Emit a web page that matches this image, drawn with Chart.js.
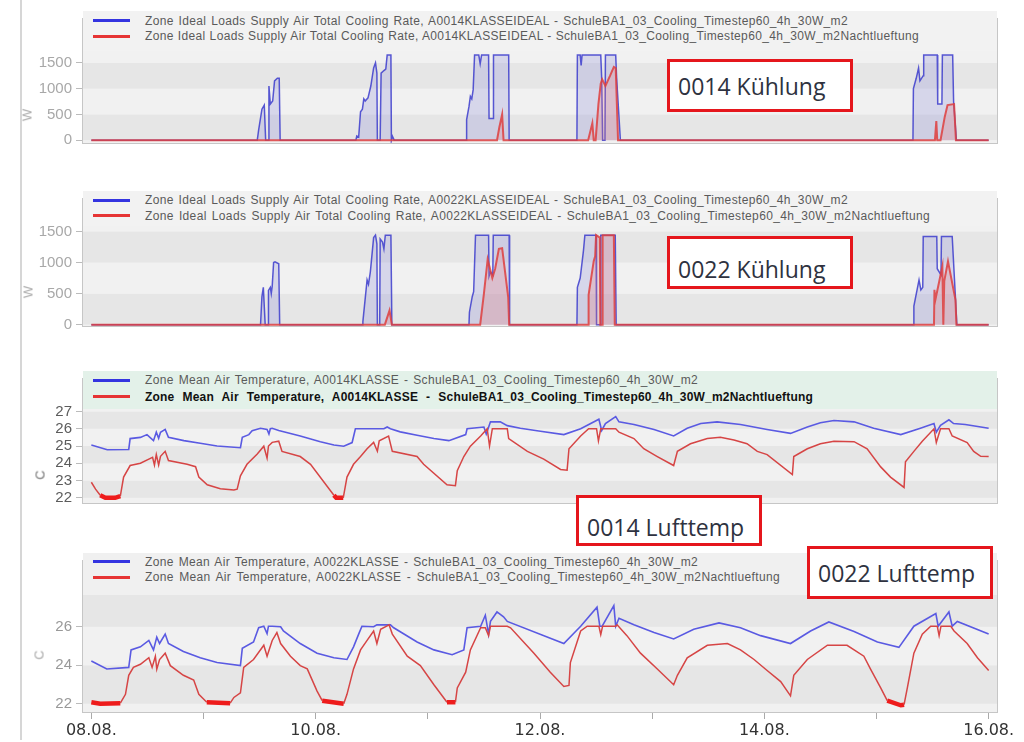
<!DOCTYPE html>
<html>
<head>
<meta charset="utf-8">
<script src="https://cdn.jsdelivr.net/npm/chart.js@4.4.1/dist/chart.umd.min.js"></script>
<style>
  html, body { margin: 0; padding: 0; background: #fff; }
  body { width: 1024px; height: 742px; position: relative; overflow: hidden; font-family: "Liberation Sans", Arial, sans-serif; }
  .panel { position: absolute; left: 0; width: 1024px; }
  .sideline { position: absolute; left: 20px; top: 0; width: 2px; height: 740px; background: #d6d6d6; }
  .legend { position: absolute; left: 83px; width: 914px; }
  .leg-line { position: absolute; left: 10px; width: 37px; height: 3px; }
  .leg-text { position: absolute; left: 62px; font-size: 12px; letter-spacing: 0.35px; line-height: 14px; color: #5a5a5a; white-space: nowrap; }
  .leg-text.bold { font-weight: bold; color: #111; letter-spacing: 0.2px; }
  .unit { position: absolute; font-size: 13px; color: #aaa; transform: translate(-50%, -50%) rotate(-90deg); }
  .note { position: absolute; box-sizing: border-box; border: 3px solid #e5161c; background: #fff; z-index: 10;
          font-family: "Open Sans", sans-serif; font-size: 23px; color: #2e3240; padding-left: 8px;
          display: flex; align-items: center; }
</style>
</head>
<body>
<div class="sideline"></div>
<script>
// ---- data (hours since 08.08. 00:00, value) ----
const dayHours  = [0, 24, 48, 72, 96, 120, 144, 168, 192];
const dayLabels = ["08.08.", "", "10.08.", "", "12.08.", "", "14.08.", "", "16.08."];

const coolTicks   = [0, 500, 1000, 1500];
const tempTicks14 = [22, 23, 24, 25, 26, 27];
const tempTicks22 = [22, 24, 26];

const cool14Ideal = [
  [0,0],
  [35.5,0],[35.8,200],[36.5,600],[37.0,680],[37.3,0],[37.8,0],[38.0,1050],[38.3,700],[38.8,760],[39.2,1150],[39.8,1200],[40.2,1200],[40.4,0],
  [56.6,0],[56.8,80],[57.2,60],[57.6,550],[58.0,600],[58.3,800],[58.6,760],[59.2,820],[59.8,1050],[60.4,1400],[60.8,1500],[61.1,1300],[61.2,0],[61.8,0],[62.0,1300],[62.6,1350],[63.0,1380],[63.3,1650],[64.1,1650],[64.2,0],[64.4,80],[64.8,0],
  [80.2,0],[80.3,400],[80.8,650],[81.1,850],[81.4,800],[81.7,980],[82.0,1650],[82.9,1650],[83.2,1480],[83.5,1650],[85.0,1650],[85.1,420],[86.0,420],[86.05,1650],[89.3,1650],[89.4,0],
  [103.9,0],[104.0,1650],[104.6,1650],[104.8,1450],[105.0,1650],[109.0,1650],[109.2,1200],[109.4,0],[109.9,0],[110.0,1650],[112.2,1650],[112.4,1200],[113.2,0],
  [175.8,0],[175.9,1000],[176.5,1200],[177.0,1400],[177.3,1150],[178.0,1250],[178.1,1650],[181.0,1650],[181.1,700],[182.0,700],[182.1,1650],[184.3,1650],[184.5,750],[185.1,0],
  [192,0]
];
const cool14Night = [
  [0,0],[86.8,0],[87.3,250],[87.9,500],[88.2,0],
  [106.3,0],[107.2,330],[107.5,0],[107.9,0],[108.5,700],[109.0,1100],[109.3,1180],[110.0,1050],[111.0,1250],[111.8,1420],[112.2,1400],[112.7,0],
  [180.5,0],[180.8,370],[181.0,0],[181.7,0],[182.6,450],[183.2,680],[184.6,700],[185.0,0],[192,0]
];
const cool22Ideal = [
  [0,0],
  [36.2,0],[36.5,450],[36.8,600],[37.2,0],[37.8,0],[37.9,550],[38.3,600],[38.5,500],[38.7,620],[39.0,1000],[39.3,1010],[40.1,980],[40.3,0],
  [58.0,0],[58.1,50],[59.0,720],[59.3,650],[59.7,850],[60.4,1400],[60.8,1440],[61.1,1300],[61.2,0],[61.7,0],[61.8,1380],[62.3,1330],[62.6,1220],[62.9,1440],[64.1,1440],[64.3,0],
  [80.8,0],[80.9,200],[81.5,450],[81.8,530],[82.2,1440],[85.0,1440],[85.1,780],[85.4,850],[85.9,800],[86.0,1440],[89.4,1440],[89.5,0],
  [103.9,0],[104.0,600],[104.6,750],[105.3,1190],[105.6,1440],[108.0,1440],[108.1,0],[108.9,0],[109.0,1440],[112.1,1440],[112.3,0],
  [175.9,0],[176.0,300],[177.1,720],[177.5,560],[177.9,600],[178.0,1420],[180.9,1420],[181.0,900],[181.8,800],[181.9,1420],[184.2,1420],[185.2,0],
  [192,0]
];
const cool22Night = [
  [0,0],[62.8,0],[63.8,230],[64.3,0],
  [83.2,0],[84.0,500],[84.8,1050],[85.3,900],[85.8,750],[86.4,900],[87.2,1220],[87.9,1230],[89.2,440],[89.4,0],
  [106.3,0],[106.4,480],[107.5,1025],[107.8,1100],[108.0,1440],[108.8,1400],[108.9,0],[109.3,0],[109.4,1440],[111.8,1440],[112.0,0],
  [180.3,0],[180.4,560],[180.6,400],[182.1,940],[182.3,0],[182.5,700],[183.3,1020],[184.9,400],[185.1,0],[192,0]
];

const temp14Ideal = [
  [0,25.06],[3.4,24.78],[8.0,24.8],[8.3,25.43],[10.5,25.5],[11.9,25.66],[13.3,25.31],[13.9,25.8],[14.4,25.45],[14.8,25.8],[15.8,25.96],[16.5,25.5],
  [19.8,25.31],[23.3,25.16],[26.9,25.0],[31.9,24.9],[32.3,25.5],[33.7,25.66],[34.4,25.88],[36.2,26.03],[37.6,25.96],[38.0,25.7],[38.3,26.0],[38.7,26.03],[40.1,25.9],
  [44.7,25.58],[49.0,25.25],[51.9,25.06],[54.0,24.99],[55.8,25.2],[56.5,26.0],[62.6,26.0],[63.3,26.1],[64.0,26.0],[66.1,25.82],[69.7,25.62],[73.3,25.43],[76.5,25.31],
  [80.1,25.66],[80.4,26.0],[84.0,26.1],[84.5,25.7],[85.4,26.4],[87.5,26.4],[89.0,26.18],[91.8,26.03],[96.1,25.85],[101.1,25.66],[104.7,26.0],[108.6,26.55],[109.2,25.9],
  [110.0,26.3],[112.2,26.7],[112.9,26.4],[116.1,26.25],[120.4,25.96],[124.6,25.58],[127.5,26.03],[130.4,26.3],[133.9,26.4],[138.9,26.25],[144.6,25.96],[149.6,25.73],
  [153.2,26.1],[156.0,26.35],[158.9,26.48],[163.2,26.4],[167.4,26.03],[173.2,25.66],[177.4,26.03],[180.3,26.3],[180.8,25.8],[181.7,26.2],[183.5,26.52],[184.5,26.3],
  [187.0,26.25],[192,26.03]
];
const temp14Night = [
  [0,22.9],[0.9,22.5],[1.9,22.15],[3.0,22.0],[5.1,22.0],[6.2,22.1],[6.9,23.2],[8.3,23.87],[10.5,24.0],[12.3,24.24],[13.1,24.35],[13.5,23.9],[13.9,24.5],[14.4,23.9],
  [14.8,24.4],[15.8,24.69],[16.5,24.16],[20.5,23.94],[22.3,23.8],[23.0,23.2],[24.8,22.75],[27.6,22.52],[30.5,22.45],[31.2,22.5],[31.9,23.27],[33.3,23.94],[35.5,24.54],
  [36.9,24.99],[37.6,24.3],[37.9,25.0],[38.7,25.21],[40.1,25.28],[40.8,24.69],[44.7,24.39],[46.9,23.94],[51.9,22.15],[52.4,22.0],[53.9,22.0],[54.7,23.2],[56.1,23.94],
  [57.6,24.39],[59.0,24.84],[60.4,25.21],[61.2,24.7],[61.6,25.3],[63.6,25.58],[64.4,24.69],[69.7,24.39],[71.1,23.94],[76.1,22.75],[77.9,22.7],[78.3,23.57],[79.7,24.39],
  [81.1,24.99],[83.3,25.58],[84.7,26.0],[85.2,25.0],[85.8,26.0],[89.0,26.0],[89.3,25.43],[93.3,24.69],[96.8,24.24],[100.4,23.64],[101.8,23.6],[102.2,24.84],[104.7,25.58],
  [106.4,26.0],[108.1,26.0],[108.5,25.3],[109.0,26.0],[112.2,26.0],[112.9,25.8],[116.1,25.43],[118.2,24.84],[121.1,24.39],[124.6,23.87],[125.4,24.69],[128.2,25.13],
  [131.8,25.43],[134.6,25.51],[137.5,25.35],[140.3,25.13],[142.5,24.69],[144.6,24.5],[150.0,23.34],[150.3,24.39],[153.2,24.84],[156.0,25.13],[158.9,25.28],[163.2,25.25],
  [166.0,24.84],[168.9,23.79],[171.0,23.2],[173.9,22.6],[174.2,24.09],[176.0,24.69],[177.8,25.28],[180.3,26.0],[180.8,25.2],[181.7,26.0],[183.5,26.0],[184.2,25.58],
  [187.4,25.2],[188.8,24.69],[190.3,24.4],[192,24.39]
];
const temp22Ideal = [
  [0,24.22],[3.3,23.81],[8.0,23.89],[8.5,24.8],[10.5,24.96],[12.3,25.29],[13.3,24.8],[14.0,25.46],[14.6,25.13],[15.8,25.62],[16.5,25.13],[19.7,24.72],[23.3,24.39],
  [26.9,24.14],[31.9,23.98],[32.3,24.88],[34.7,25.21],[35.8,25.95],[36.9,26.03],[37.6,25.65],[37.9,26.03],[38.7,26.03],[40.5,26.0],[41.1,25.78],[44.7,25.13],[48.3,24.63],
  [51.9,24.39],[54.7,24.3],[56.1,24.96],[57.2,25.62],[57.9,26.03],[60.4,26.0],[61.1,26.1],[64.0,26.1],[64.7,25.95],[69.7,25.21],[73.3,24.8],[77.2,24.55],[79.7,24.8],
  [80.4,25.95],[83.3,26.03],[84.3,26.6],[85.0,25.62],[85.4,26.28],[86.8,26.77],[88.2,26.52],[89.0,26.28],[101.1,25.13],[104.7,26.03],[108.2,27.02],[108.8,26.03],
  [109.3,26.03],[111.8,27.1],[112.2,26.03],[112.9,26.44],[116.1,26.11],[120.4,25.7],[124.6,25.37],[128.9,25.87],[134.3,26.2],[138.9,25.95],[143.2,25.54],[149.6,25.13],
  [153.9,25.78],[157.8,26.25],[163.2,25.75],[168.2,25.21],[172.8,24.93],[176.0,26.03],[180.7,26.69],[181.2,26.03],[183.5,26.77],[184.2,26.03],[185.3,26.28],[192,25.62]
];
const temp22Night = [
  [0,22.08],[1.9,22.0],[6.2,22.03],[7.3,22.49],[8.0,23.48],[9.0,23.89],[10.5,24.05],[12.3,24.39],[13.0,23.89],[13.7,24.47],[14.0,23.8],[14.6,24.3],[15.8,24.63],
  [16.9,23.98],[19.7,23.48],[21.9,23.23],[23.0,22.49],[24.7,22.08],[29.7,22.03],[30.5,22.33],[31.9,22.57],[32.6,23.89],[34.7,24.3],[36.9,25.04],[37.6,24.47],
  [38.7,25.29],[39.7,25.7],[40.5,25.13],[42.6,24.47],[44.7,23.98],[46.2,23.81],[48.3,22.66],[49.4,22.16],[54.0,22.0],[54.7,22.49],[56.1,23.81],[57.6,24.8],
  [59.0,25.29],[60.4,25.78],[61.1,25.13],[61.9,25.87],[63.7,26.1],[64.4,25.62],[67.6,24.47],[70.4,23.98],[73.3,22.99],[76.1,22.08],[77.9,22.08],[78.3,22.82],
  [80.1,23.64],[81.1,24.8],[83.3,25.95],[84.3,25.95],[85.0,25.54],[85.4,26.03],[89.0,26.03],[89.7,25.95],[94.7,24.63],[98.2,23.64],[101.1,22.9],[102.2,22.95],
  [102.5,24.14],[104.7,25.78],[106.1,26.03],[108.6,26.03],[109.0,25.6],[109.4,26.03],[112.2,26.03],[112.5,26.1],[114.6,25.54],[117.5,24.63],[121.1,23.81],
  [124.6,22.99],[125.4,23.48],[127.5,24.39],[131.8,25.04],[136.1,25.13],[138.9,24.8],[141.8,24.3],[144.6,23.73],[147.5,23.15],[149.6,22.41],[150.3,23.48],
  [153.2,24.3],[157.5,25.04],[161.7,25.04],[165.3,24.47],[166.7,23.81],[168.9,22.82],[170.3,22.16],[173.2,21.92],[173.9,21.95],[174.6,22.82],[176.0,24.63],
  [177.8,25.62],[179.6,26.03],[181.0,26.03],[181.4,25.54],[181.8,26.03],[183.9,26.03],[184.6,25.78],[187.4,25.13],[189.6,24.39],[192,23.73]
];

const coolLegend14 = [
  "Zone Ideal Loads Supply Air Total Cooling Rate, A0014KLASSEIDEAL - SchuleBA1_03_Cooling_Timestep60_4h_30W_m2",
  "Zone Ideal Loads Supply Air Total Cooling Rate, A0014KLASSEIDEAL - SchuleBA1_03_Cooling_Timestep60_4h_30W_m2Nachtlueftung"
];
const coolLegend22 = [
  "Zone Ideal Loads Supply Air Total Cooling Rate, A0022KLASSEIDEAL - SchuleBA1_03_Cooling_Timestep60_4h_30W_m2",
  "Zone Ideal Loads Supply Air Total Cooling Rate, A0022KLASSEIDEAL - SchuleBA1_03_Cooling_Timestep60_4h_30W_m2Nachtlueftung"
];
const tempLegend14 = [
  "Zone Mean Air Temperature, A0014KLASSE - SchuleBA1_03_Cooling_Timestep60_4h_30W_m2",
  "Zone Mean Air Temperature, A0014KLASSE - SchuleBA1_03_Cooling_Timestep60_4h_30W_m2Nachtlueftung"
];
const tempLegend22 = [
  "Zone Mean Air Temperature, A0022KLASSE - SchuleBA1_03_Cooling_Timestep60_4h_30W_m2",
  "Zone Mean Air Temperature, A0022KLASSE - SchuleBA1_03_Cooling_Timestep60_4h_30W_m2Nachtlueftung"
];

// ---- layout ----
const BLUE = "#3434e0";
const RED  = "#e63434";
const SETPOINT_BAND = 22.16;   // near the 22 °C floor the night series is drawn heavier

const panels = [
  { top: 5,   height: 173, yMin: -75,   yMax: 2370,  yTicks: coolTicks,   tickColor: "#a8a8a8", kind: "cool",
    series: [cool14Ideal, cool14Night], legend: coolLegend14, legTop: 11, legH: 40, legBg: "#f2f2f2",
    rows: [20.7, 36], ends: [848, 919], bold: [false, false], unit: "W", unitPos: [27, 115] },
  { top: 185, height: 176, yMin: -37.5, yMax: 2037.5, yTicks: coolTicks,  tickColor: "#a8a8a8", kind: "cool",
    series: [cool22Ideal, cool22Night], legend: coolLegend22, legTop: 191, legH: 35, legBg: "#f2f2f2",
    rows: [200, 215.7], ends: [848, 930], bold: [false, false], unit: "W", unitPos: [28, 292] },
  { top: 365, height: 173, yMin: 21.64, yMax: 28.94, yTicks: tempTicks14, tickColor: "#5c5c5c", kind: "temp",
    series: [temp14Ideal, temp14Night], legend: tempLegend14, legTop: 371, legH: 38, legBg: "#e3f1e9",
    rows: [380, 396.7], ends: [698, 813], bold: [false, true], unit: "C", unitPos: [40, 475] },
  { top: 547, height: 195, yMin: 21.52, yMax: 29.47, yTicks: tempTicks22, tickColor: "#999", kind: "temp",
    series: [temp22Ideal, temp22Night], legend: tempLegend22, legTop: 553, legH: 42, legBg: "#f0f0f0",
    rows: [561.7, 577.3], ends: [698, 780], bold: [false, false], unit: "C", unitPos: [39, 655], xAxis: true }
];

const notes = [
  { text: "0014 Kühlung",  left: 667, top: 59,  w: 186, h: 53, padTop: 0 },
  { text: "0022 Kühlung",  left: 667, top: 236, w: 186, h: 53, padTop: 12 },
  { text: "0014 Lufttemp", left: 576, top: 495, w: 186, h: 51, padTop: 12 },
  { text: "0022 Lufttemp", left: 807, top: 546, w: 186, h: 53, padTop: 0 }
];

function pts(a) { return a.map(p => ({ x: p[0], y: p[1] })); }

const bandPlugin = {
  id: "bands",
  beforeDatasetsDraw(chart, args, opts) {
    const { ctx, chartArea: a, scales: { y } } = chart;
    const t = opts.ticks;
    ctx.save();
    ctx.fillStyle = "#f1f1f1";
    ctx.fillRect(a.left, a.top, a.right - a.left, a.bottom - a.top);
    for (let i = 0; i < t.length; i++) {
      const lo = y.getPixelForValue(t[i]);
      const hi = i + 1 < t.length ? y.getPixelForValue(t[i + 1]) : a.top;
      ctx.fillStyle = i % 2 === 0 ? "#e6e6e6" : "#f1f1f1";
      ctx.fillRect(a.left, hi, a.right - a.left, lo - hi);
    }
    ctx.restore();
  },
  afterDatasetsDraw(chart) {
    const { ctx, chartArea: a } = chart;
    ctx.save();
    ctx.strokeStyle = "#c6c6c6";
    ctx.lineWidth = 1;
    ctx.strokeRect(a.left + 0.5, a.top + 0.5, a.right - a.left - 1, a.bottom - a.top - 1);
    ctx.restore();
  }
};

function datasetsFor(p) {
  const [ideal, night] = p.series;
  if (p.kind === "cool") {
    return [
      { data: pts(ideal), borderColor: "rgba(60,60,205,0.85)", backgroundColor: "rgba(110,110,210,0.2)",
        fill: "origin", borderWidth: 1.5, pointRadius: 0, order: 1 },
      { data: pts(night), borderColor: "rgba(222,62,62,0.85)", backgroundColor: "rgba(235,120,120,0.25)",
        fill: "origin", borderWidth: 2, pointRadius: 0, order: 0 }
    ];
  }
  return [
    { data: pts(ideal), borderColor: "#5a5ae2", fill: false, borderWidth: 1.6, pointRadius: 0, order: 1 },
    { data: pts(night), borderColor: "#d64545", fill: false, borderWidth: 1.5, pointRadius: 0, order: 0,
      segment: {
        borderWidth: c => (c.p0.parsed.y <= SETPOINT_BAND && c.p1.parsed.y <= SETPOINT_BAND) ? 4.5 : undefined,
        borderColor: c => (c.p0.parsed.y <= SETPOINT_BAND && c.p1.parsed.y <= SETPOINT_BAND) ? "#ee1c1c" : undefined
      } }
  ];
}

function makePanel(p) {
  const wrap = document.createElement("div");
  wrap.className = "panel";
  wrap.style.top = p.top + "px";
  wrap.style.height = p.height + "px";
  const cv = document.createElement("canvas");
  cv.width = 1024;
  cv.height = p.height;
  wrap.appendChild(cv);
  document.body.appendChild(wrap);

  new Chart(cv, {
    type: "line",
    data: { datasets: datasetsFor(p) },
    plugins: [bandPlugin],
    options: {
      responsive: false,
      animation: false,
      layout: { padding: { top: 5, bottom: p.xAxis ? 0 : 5, left: 0, right: 26 } },
      plugins: { legend: { display: false }, tooltip: { enabled: false }, bands: { ticks: p.yTicks } },
      scales: {
        x: {
          type: "linear", min: -2, max: 194, display: !!p.xAxis,
          afterBuildTicks: s => { s.ticks = dayHours.map(v => ({ value: v })); },
          afterFit: s => { s.height = 29; },
          border: { display: false },
          grid: { drawOnChartArea: false, drawTicks: true, tickLength: 6, color: "#aaa" },
          ticks: { autoSkip: false, maxRotation: 0, padding: 2, color: "#333",
                   font: { family: "DejaVu Sans", size: 16 }, callback: (v, i) => dayLabels[i] }
        },
        y: {
          min: p.yMin, max: p.yMax,
          afterBuildTicks: s => { s.ticks = p.yTicks.map(v => ({ value: v })); },
          afterFit: s => { s.width = 82; },
          border: { display: false },
          grid: { drawOnChartArea: false, drawTicks: true, tickLength: 6, color: "#bbb" },
          ticks: { padding: 4, color: p.tickColor, font: { family: "Liberation Sans", size: 15 },
                   callback: v => String(v) }
        }
      }
    }
  });

  // legend (HTML, inside the frame)
  const leg = document.createElement("div");
  leg.className = "legend";
  leg.style.top = p.legTop + "px";
  leg.style.height = p.legH + "px";
  leg.style.background = p.legBg;
  document.body.appendChild(leg);
  [BLUE, RED].forEach((c, i) => {
    const cy = p.rows[i] - p.legTop;
    const ln = document.createElement("div");
    ln.className = "leg-line";
    ln.style.top = (cy - 1.5) + "px";
    ln.style.background = c;
    leg.appendChild(ln);
    const tx = document.createElement("div");
    tx.className = "leg-text" + (p.bold[i] ? " bold" : "");
    tx.style.top = (cy - 7) + "px";
    tx.textContent = p.legend[i];
    tx.dataset.w = p.ends[i] - 145;
    leg.appendChild(tx);
  });

  const u = document.createElement("div");
  u.className = "unit";
  u.textContent = p.unit;
  u.style.left = p.unitPos[0] + "px";
  u.style.top = p.unitPos[1] + "px";
  if (p.kind === "temp" && p.tickColor === "#5c5c5c") u.style.color = "#777";
  document.body.appendChild(u);
}

panels.forEach(makePanel);

notes.forEach(n => {
  const d = document.createElement("div");
  d.className = "note";
  d.textContent = n.text;
  Object.assign(d.style, { left: n.left + "px", top: n.top + "px", width: n.w + "px", height: n.h + "px",
                           paddingTop: n.padTop + "px" });
  document.body.appendChild(d);
});

// stretch the legend lines to the width they have in the original
document.querySelectorAll(".leg-text").forEach(el => {
  const target = +el.dataset.w;
  const nat = el.getBoundingClientRect().width;
  const spaces = (el.textContent.match(/ /g) || []).length;
  if (spaces) el.style.wordSpacing = ((target - nat) / spaces) + "px";
});
</script>
</body>
</html>
